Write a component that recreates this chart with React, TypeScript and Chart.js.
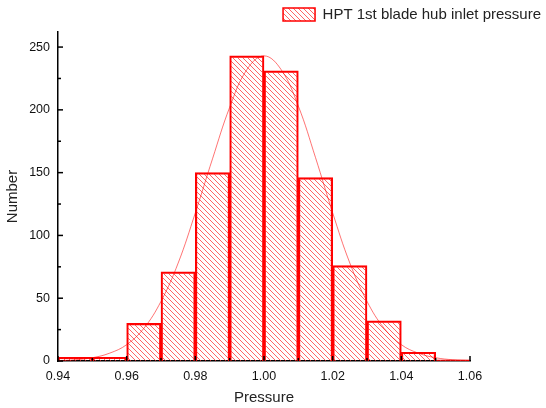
import React, { useEffect, useRef } from 'react';
import { Chart, registerables } from 'chart.js';

Chart.register(...registerables);

// Histogram bins (start of each 0.01-wide bin) and counts
const binStarts = [0.94, 0.95, 0.96, 0.97, 0.98, 0.99, 1.0, 1.01, 1.02, 1.03, 1.04, 1.05];
const binCounts = [3, 3, 30, 71, 150, 243, 231, 146, 76, 32, 7, 1];
const binWidth = 0.01;

// Fitted normal curve
const fitX = [0.94, 0.945, 0.95, 0.955, 0.96, 0.965, 0.97, 0.975, 0.98, 0.985, 0.99, 0.995, 1.0,
  1.005, 1.01, 1.015, 1.02, 1.025, 1.03, 1.035, 1.04, 1.045, 1.05, 1.055, 1.06];
const fitY = [0.4, 1.0, 2.6, 6.2, 13, 26, 47.5, 78, 118, 161, 202, 232, 243,
  232, 203, 162, 118, 78, 47.5, 26, 13, 6.2, 2.6, 1.0, 0.4];

const xTickValues = [0.94, 0.96, 0.98, 1.0, 1.02, 1.04, 1.06];
const xMinorValues = [0.95, 0.97, 0.99, 1.01, 1.03, 1.05];
const yTickValues = [0, 50, 100, 150, 200, 250];
const yMinorValues = [25, 75, 125, 175, 225];

const seriesLabel = 'HPT 1st blade hub inlet pressure';
const FONT = 'Liberation Sans, Arial, sans-serif';

function makeHatch(): CanvasPattern | string {
  const s = 5;
  const c = document.createElement('canvas');
  c.width = s;
  c.height = s;
  const g = c.getContext('2d');
  if (!g) return 'rgba(255,0,0,0.3)';
  g.strokeStyle = 'rgba(255,40,40,0.8)';
  g.lineWidth = 0.9;
  g.beginPath();
  g.moveTo(0, 0); g.lineTo(s, s);
  g.moveTo(-1, s - 1); g.lineTo(1, s + 1);
  g.moveTo(s - 1, -1); g.lineTo(s + 1, 1);
  g.stroke();
  const p = g.createPattern(c, 'repeat');
  return p || 'rgba(255,0,0,0.3)';
}

const inTicks = {
  id: 'inTicks',
  afterDraw(chart: any) {
    const { ctx, chartArea, scales } = chart;
    const x = scales.x, y = scales.y;
    ctx.save();
    ctx.strokeStyle = '#000';
    ctx.lineWidth = 1.5;
    const seg = (x1: number, y1: number, x2: number, y2: number) => {
      ctx.beginPath(); ctx.moveTo(x1, y1); ctx.lineTo(x2, y2); ctx.stroke();
    };
    yTickValues.forEach(v => { const p = y.getPixelForValue(v); seg(chartArea.left, p, chartArea.left + 5, p); });
    yMinorValues.forEach(v => { const p = y.getPixelForValue(v); seg(chartArea.left, p, chartArea.left + 3, p); });
    xTickValues.forEach(v => { const p = x.getPixelForValue(v); seg(p, chartArea.bottom, p, chartArea.bottom - 5); });
    xMinorValues.forEach(v => { const p = x.getPixelForValue(v); seg(p, chartArea.bottom, p, chartArea.bottom - 3); });
    ctx.restore();
  },
};

export default function App() {
  const ref = useRef<HTMLCanvasElement | null>(null);
  useEffect(() => {
    if (!ref.current) return;
    const hatch = makeHatch();
    const chart = new Chart(ref.current, {
      type: 'bar',
      data: {
        datasets: [
          {
            type: 'line',
            label: 'fit',
            data: fitX.map((v, i) => ({ x: v, y: fitY[i] })),
            borderColor: 'rgba(255,0,0,0.55)',
            borderWidth: 1,
            pointRadius: 0,
            tension: 0.4,
            fill: false,
            order: 0,
          } as any,
          {
            type: 'bar',
            label: seriesLabel,
            data: binStarts.map((v, i) => ({ x: v + binWidth / 2, y: binCounts[i] })),
            backgroundColor: hatch as any,
            borderColor: '#ff0000',
            borderWidth: 1.5,
            borderSkipped: 'bottom',
            barPercentage: 1,
            categoryPercentage: 1,
            grouped: false,
            order: 1,
          } as any,
        ],
      },
      options: {
        animation: false,
        responsive: false,
        maintainAspectRatio: false,
        layout: { padding: { left: 0, right: 0, top: 2, bottom: 0 } },
        plugins: {
          tooltip: { enabled: false },
          legend: {
            display: true,
            position: 'top',
            align: 'end',
            labels: {
              filter: (item: any) => item.text === seriesLabel,
              boxWidth: 32,
              boxHeight: 13,
              padding: 5,
              color: '#222',
              font: { family: FONT, size: 15 },
            },
          },
        },
        scales: {
          x: {
            type: 'linear',
            min: 0.94,
            max: 1.06,
            offset: false,
            afterBuildTicks: (s: any) => { s.ticks = xTickValues.map(v => ({ value: v })); },
            afterFit: (s: any) => { s.height = 47; },
            grid: { display: false, drawTicks: false },
            border: { display: true, color: '#000', width: 1.5 },
            ticks: {
              padding: 8,
              color: '#111',
              font: { family: FONT, size: 12.5 },
              callback: (v: any) => Number(v).toFixed(2),
              maxRotation: 0,
            },
            title: {
              display: true,
              text: 'Pressure',
              color: '#222',
              font: { family: FONT, size: 15 },
              padding: { top: 0, bottom: 1 },
            },
          },
          y: {
            type: 'linear',
            min: 0,
            max: 262,
            afterBuildTicks: (s: any) => { s.ticks = yTickValues.map(v => ({ value: v })); },
            afterFit: (s: any) => { s.width = 58; },
            grid: { display: false, drawTicks: false },
            border: { display: true, color: '#000', width: 1.5 },
            ticks: {
              padding: 8,
              color: '#111',
              font: { family: FONT, size: 12.5 },
            },
            title: {
              display: true,
              text: 'Number',
              color: '#222',
              font: { family: FONT, size: 15 },
              padding: { top: 4, bottom: 0 },
            },
          },
          yR: {
            type: 'linear',
            position: 'right',
            display: true,
            afterFit: (s: any) => { s.width = 76; },
            grid: { display: false, drawTicks: false },
            border: { display: false },
            ticks: { display: false },
          },
        },
      },
      plugins: [inTicks],
    });
    return () => chart.destroy();
  }, []);
  return (
    <div style={{ position: 'absolute', left: 0, top: 0, width: 546, height: 408, background: '#fff' }}>
      <canvas ref={ref} width={546} height={408} style={{ width: 546, height: 408, display: 'block' }} />
    </div>
  );
}
